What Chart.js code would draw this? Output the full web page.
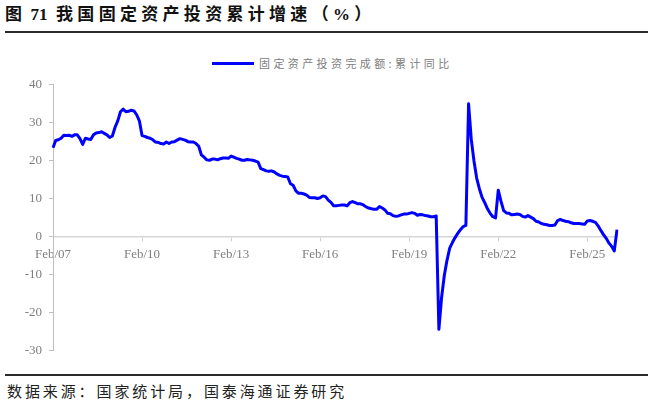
<!DOCTYPE html>
<html>
<head>
<meta charset="utf-8">
<script src="https://cdn.jsdelivr.net/npm/chart.js@4.4.1/dist/chart.umd.min.js"></script>
<style>
  html, body { margin: 0; padding: 0; background: #fff; }
  #page { position: relative; width: 652px; height: 405px; overflow: hidden; }
  #title {
    position: absolute; left: 5px; top: 5px; line-height: 20px;
    font-family: "Liberation Serif", "Noto Sans CJK SC", serif;
    font-weight: bold; font-size: 17px; color: #111;
    white-space: nowrap;
  }
  #title .cjk { letter-spacing: 4.3px; }
  .rule { position: absolute; left: 5px; width: 643px; height: 2px; background: #2b2b2b; }
  #legend {
    position: absolute; left: 212px; top: 55px; height: 16px;
    display: flex; align-items: center; white-space: nowrap;
  }
  #legend .swatch { width: 42px; height: 3px; background: #0000ff; margin-right: 5px; }
  #legend .text {
    font-family: "Noto Sans CJK SC", sans-serif; font-size: 11px;
    letter-spacing: 3.4px; color: #808080;
  }
  #source {
    position: absolute; left: 7px; top: 381px; line-height: 19px;
    font-family: "Noto Sans CJK SC", sans-serif; font-size: 15px;
    letter-spacing: 2.9px; color: #222; white-space: nowrap;
  }
  #chart { position: absolute; left: 0; top: 70px; }
</style>
</head>
<body>
<div id="page">
  <div id="title"><span class="cjk">图</span> 71&nbsp; <span class="cjk">我国固定资产投资累计增速（%）</span></div>
  <div class="rule" style="top:31px"></div>
  <div id="legend"><span class="swatch"></span><span class="text" id="legendText"></span></div>
  <canvas id="chart" width="652" height="295"></canvas>
  <div class="rule" style="top:374px"></div>
  <div id="source">数据来源：国家统计局，国泰海通证券研究</div>
</div>
<script>
const seriesName = '固定资产投资完成额:累计同比';
const years = [2007, 2008, 2009, 2010, 2011, 2012, 2013, 2014, 2015, 2016,
  2017, 2018, 2019, 2020, 2021, 2022, 2023, 2024, 2025, 2026];
const months = ['Feb', 'Mar', 'Apr', 'May', 'Jun', 'Jul', 'Aug', 'Sep', 'Oct', 'Nov', 'Dec'];

// cumulative yoy, %, Feb..Dec of each year
const yoy = [
  23.4, 25.3, 25.5, 25.9, 26.7, 26.6, 26.7, 26.4, 26.8, 26.8, 25.8, // 2007
  24.3, 25.9, 25.7, 25.6, 26.8, 27.3, 27.4, 27.6, 27.2, 26.8, 26.1, // 2008
  26.5, 28.8, 30.5, 32.9, 33.6, 32.9, 33.0, 33.3, 33.1, 32.1, 30.5, // 2009
  26.6, 26.4, 26.1, 25.9, 25.5, 24.9, 24.8, 24.5, 24.4, 24.9, 24.5, // 2010
  24.9, 25.0, 25.4, 25.8, 25.6, 25.4, 25.0, 24.9, 24.9, 24.5, 23.8, // 2011
  21.5, 20.9, 20.2, 20.1, 20.4, 20.4, 20.2, 20.5, 20.7, 20.7, 20.6, // 2012
  21.2, 20.9, 20.6, 20.4, 20.1, 20.1, 20.3, 20.2, 20.1, 19.9, 19.6, // 2013
  17.9, 17.6, 17.3, 17.2, 17.3, 17.0, 16.5, 16.1, 15.9, 15.8, 15.7, // 2014
  13.9, 13.5, 12.0, 11.4, 11.4, 11.2, 10.9, 10.3, 10.2, 10.2, 10.0, // 2015
  10.2, 10.7, 10.5, 9.6, 9.0, 8.1, 8.1, 8.2, 8.3, 8.3, 8.1,         // 2016
  8.9, 9.2, 8.9, 8.6, 8.6, 8.3, 7.8, 7.5, 7.3, 7.2, 7.2,            // 2017
  7.9, 7.5, 7.0, 6.1, 6.0, 5.5, 5.3, 5.4, 5.7, 5.9, 5.9,            // 2018
  6.1, 6.3, 6.1, 5.6, 5.8, 5.7, 5.5, 5.4, 5.2, 5.2, 5.4,            // 2019
  -24.5, -16.1, -10.3, -6.3, -3.1, -1.6, -0.3, 0.8, 1.8, 2.6, 2.9,  // 2020
  35.0, 25.6, 19.9, 15.4, 12.6, 10.3, 8.9, 7.3, 6.1, 5.2, 4.9,      // 2021
  12.2, 9.3, 6.8, 6.2, 6.1, 5.7, 5.8, 5.9, 5.8, 5.3, 5.1,           // 2022
  5.5, 5.1, 4.7, 4.0, 3.8, 3.4, 3.2, 3.1, 2.9, 2.9, 3.0,            // 2023
  4.2, 4.5, 4.2, 4.0, 3.9, 3.6, 3.4, 3.4, 3.4, 3.3, 3.2,            // 2024
  4.1, 4.2, 4.0, 3.7, 2.8, 1.6, 0.5, -0.5, -1.7, -2.6, -3.8,        // 2025
  1.8                                                               // 2026
];

const yTicks = [-30, -20, -10, 0, 10, 20, 30, 40];
const labelEvery = 33; // one label every 3 years (11 points a year)

const labels = years.flatMap(y => months.map(m => m + '/' + String(y).slice(2))).slice(0, yoy.length);

document.getElementById('legendText').textContent = seriesName;

const tickFont = { family: '"Liberation Serif", "Times New Roman", serif', size: 13 };
const axisGray = '#bfbfbf';

new Chart(document.getElementById('chart'), {
  type: 'line',
  data: {
    labels: labels,
    datasets: [{
      label: seriesName,
      data: yoy,
      borderColor: '#0000ff',
      backgroundColor: '#0000ff',
      borderWidth: 3,
      borderJoinStyle: 'round',
      pointRadius: 0,
      tension: 0,
      fill: false
    }]
  },
  options: {
    responsive: false,
    animation: false,
    events: [],
    layout: { padding: { top: 13, right: 35, bottom: 10, left: 0 } },
    plugins: {
      legend: { display: false },
      tooltip: { enabled: false }
    },
    scales: {
      x: {
        position: { y: 0 },
        grid: { drawOnChartArea: false, color: '#d0d0d0', tickLength: 4, lineWidth: 1 },
        border: { color: '#d6d6d6', width: 1.5 },
        ticks: {
          autoSkip: false,
          maxRotation: 0,
          padding: 6,
          color: '#7f7f7f',
          font: tickFont,
          callback: function (value, index) {
            return index % labelEvery === 0 ? this.getLabelForValue(value) : null;
          }
        }
      },
      y: {
        min: yTicks[0],
        max: yTicks[yTicks.length - 1],
        afterBuildTicks: scale => { scale.ticks = yTicks.map(v => ({ value: v })); },
        afterFit: scale => { scale.width = 53; },
        grid: { drawOnChartArea: false, color: axisGray, tickLength: 4 },
        border: { color: axisGray, width: 1 },
        ticks: { padding: 7, color: '#7f7f7f', font: tickFont }
      }
    }
  }
});
</script>
</body>
</html>
